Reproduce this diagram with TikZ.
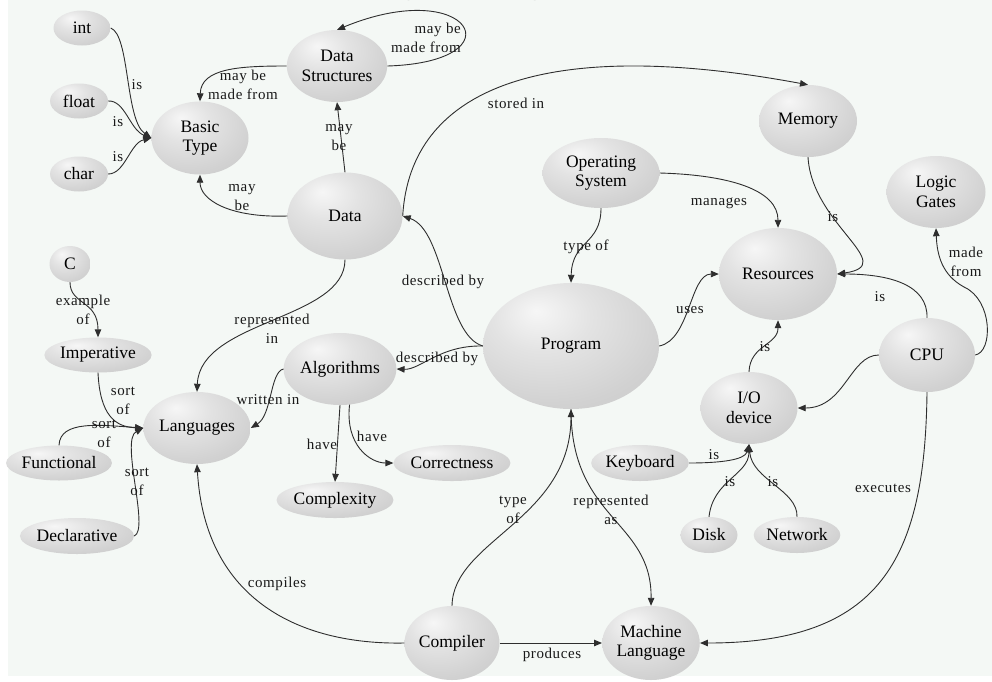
\documentclass[tikz,border=0pt]{standalone}
\usepackage{fontspec}
\setmainfont{Liberation Serif}
\newfontfamily\lblfont{Liberation Serif}[LetterSpace=4.0]
\usetikzlibrary{shapes.geometric,arrows.meta}
\definecolor{bgcol}{RGB}{244,248,245}
\pgfdeclareradialshading{nodeshade}{\pgfpoint{-10bp}{14bp}}{%
  color(0bp)=(gray!7); color(14bp)=(gray!22); color(32bp)=(gray!36);
  color(50bp)=(gray!45); color(80bp)=(gray!50)}
\tikzset{
  concept/.style={ellipse, shading=nodeshade, inner sep=0pt, align=center,
    font=\fontsize{17.5}{19.5}\selectfont, text=black},
  lbl/.style={font=\lblfont\fontsize{15}{19}\selectfont, inner sep=0pt, text=black!90, align=center},
  link/.style={draw=black!82, line width=0.9pt, -{Triangle[length=8pt,width=6.5pt]}}
}
\begin{document}
\begin{tikzpicture}[x=1pt,y=-1pt]
\useasboundingbox (0,0) rectangle (992,681);
\fill[white] (0,0) rectangle (992,681);
\fill[bgcol] (8,0) rectangle (992,676);
\begin{scope}
\clip (0,0) rectangle (992,681);
\node[anchor=base west, inner sep=0pt, font=\bfseries\fontsize{32}{36}\selectfont] (title) at (352,-7) {Programming Concepts};
\end{scope}

% nodes
\node[concept,minimum width=57,minimum height=35] (int) at (82,28) {int};
\node[concept,minimum width=58,minimum height=35] (float) at (79,101) {float};
\node[concept,minimum width=58,minimum height=35] (char) at (79,174) {char};
\node[concept,minimum width=97,minimum height=73] (bt) at (200,138) {Basic\\Type};
\node[concept,minimum width=97,minimum height=72] (ds) at (337,66) {Data\\Structures};
\node[concept,minimum width=115,minimum height=87] (data) at (345,216) {Data};
\node[concept,minimum width=98,minimum height=72] (mem) at (808,121) {Memory};
\node[concept,minimum width=117,minimum height=70] (os) at (601,173) {Operating\\System};
\node[concept,minimum width=99,minimum height=72] (lg) at (936,192) {Logic\\Gates};
\node[concept,minimum width=118,minimum height=92] (res) at (778,274) {Resources};
\node[concept,minimum width=176,minimum height=126] (prog) at (571,346) {Program};
\node[concept,minimum width=96,minimum height=74] (cpu) at (927,355) {CPU};
\node[concept,minimum width=97,minimum height=72] (io) at (749,408) {I/O\\device};
\node[concept,minimum width=96,minimum height=72] (alg) at (340,369) {Algorithms};
\node[concept,minimum width=97,minimum height=72] (lang) at (197,428) {Languages};
\node[concept,minimum width=41,minimum height=36] (c) at (70,264) {C};
\node[concept,minimum width=97,minimum height=35] (imp) at (98,355) {Imperative};
\node[concept,minimum width=98,minimum height=35] (func) at (59,463) {Functional};
\node[concept,minimum width=97,minimum height=36] (decl) at (77,536) {Declarative};
\node[concept,minimum width=96,minimum height=36] (cx) at (335,500) {Complexity};
\node[concept,minimum width=98,minimum height=36] (corr) at (452,463) {Correctness};
\node[concept,minimum width=80,minimum height=36] (kb) at (640,463) {Keyboard};
\node[concept,minimum width=57,minimum height=36] (disk) at (709,535) {Disk};
\node[concept,minimum width=76,minimum height=36] (net) at (797,535) {Network};
\node[concept,minimum width=95,minimum height=74] (comp) at (452,643) {Compiler};
\node[concept,minimum width=95,minimum height=74] (ml) at (651,643) {Machine\\Language};

\coordinate (lgbend) at (964,287);

% connectors
\draw[link] (int.east) .. controls (130,35) and (125,120) .. (bt.west);
\draw[link] (float.east) .. controls (125,100) and (130,130) .. (bt.west);
\draw[link] (char.east) .. controls (125,174) and (130,143) .. (bt.west);
\draw[link] (ds.west) .. controls (240,66) and (201,68) .. (bt.north);
\draw[link] (ds.east) .. controls (520,62) and (470,-25) .. (ds.north);
\draw[link] (data.north) -- (ds.south);
\draw[link] (data.west) .. controls (230,218) and (200,200) .. (bt.south);
\draw[link] (data.east) .. controls (410,90) and (540,35) .. (mem.north);
\draw[link] (prog.west) .. controls (445,335) and (445,230) .. (data.east);
\draw[link] (prog.west) .. controls (440,345) and (420,370) .. (alg.east);
\draw[link] (data.south) .. controls (345,320) and (200,320) .. (lang.north);
\draw[link] (alg.west) .. controls (270,372) and (272,415) .. (lang.east);
\draw[link] (alg.south) -- (cx.north);
\draw[link] (alg.285) .. controls (345,445) and (370,463) .. (corr.west);
\draw[link] (c.south) .. controls (70,305) and (98,300) .. (imp.north);
\draw[link] (imp.south) .. controls (100,415) and (115,427) .. (lang.west);
\draw[link] (func.north) .. controls (60,420) and (100,425) .. (lang.west);
\draw[link] (decl.east) .. controls (150,530) and (120,440) .. (lang.west);
\draw[link] (comp.west) .. controls (300,645) and (205,600) .. (lang.south);
\draw[link] (comp.north) .. controls (453,540) and (571,520) .. (prog.south);
\draw[link] (prog.south) .. controls (571,520) and (652,520) .. (ml.north);
\draw[link] (comp.east) -- (ml.west);
\draw[link] (cpu.south) .. controls (925,560) and (880,643) .. (ml.east);
\draw[link] (os.east) .. controls (730,175) and (778,190) .. (res.north);
\draw[link] (os.south) .. controls (601,245) and (572,240) .. (prog.north);
\draw[link] (prog.east) .. controls (690,340) and (690,274) .. (res.west);
\draw[link] (mem.south) .. controls (812,225) and (900,265) .. (res.east);
\draw[link] (cpu.north) .. controls (928,285) and (890,274) .. (res.east);
\draw[link] (cpu.east) .. controls (993,352) and (993,300) .. (lgbend) .. controls (942,275) and (937,255) .. (lg.south);
\draw[link] (cpu.west) .. controls (850,355) and (845,408) .. (io.east);
\draw[link] (io.north) .. controls (750,345) and (778,345) .. (res.south);
\draw[link] (kb.east) .. controls (720,463) and (745,460) .. (io.south);
\draw[link] (disk.north) .. controls (713,480) and (749,475) .. (io.south);
\draw[link] (net.north) .. controls (798,490) and (752,480) .. (io.south);

% labels
\node[lbl] (l1) at (137,85) {is};
\node[lbl] (l2) at (118,122) {is};
\node[lbl] (l3) at (118,157) {is};
\node[lbl] (l4) at (243,84.5) {may be\\made from};
\node[lbl,align=right,anchor=east] (l5) at (461,38) {may be\\made from};
\node[lbl] (l6) at (339,138) {may\\be};
\node[lbl] (l7) at (242,198) {may\\be};
\node[lbl] (l8) at (516,103) {stored in};
\node[lbl] (l9) at (443,282) {described by};
\node[lbl] (l10) at (437,359) {described by};
\node[lbl] (l11) at (272,329) {represented\\in};
\node[lbl] (l12) at (268,400) {written in};
\node[lbl] (l13) at (322,444) {have};
\node[lbl] (l14) at (372,436) {have};
\node[lbl] (l15) at (83,310) {example\\of};
\node[lbl] (l16) at (123,401) {sort\\of};
\node[lbl] (l17) at (104,434) {sort\\of};
\node[lbl] (l18) at (137,482) {sort\\of};
\node[lbl] (l19) at (277,584) {compiles};
\node[lbl] (l20) at (513,510) {type\\of};
\node[lbl] (l21) at (611,510) {represented\\as};
\node[lbl] (l22) at (552,655) {produces};
\node[lbl] (l23) at (883,488) {executes};
\node[lbl] (l24) at (719,203) {manages};
\node[lbl] (l25) at (586,247) {type of};
\node[lbl] (l26) at (690,310) {uses};
\node[lbl] (l27) at (833,217) {is};
\node[lbl] (l28) at (880,297) {is};
\node[lbl] (l29) at (966,262) {made\\from};
\node[lbl] (l30) at (765,347) {is};
\node[lbl] (l31) at (714,455) {is};
\node[lbl] (l32) at (730,482) {is};
\node[lbl] (l33) at (773,482) {is};
\end{tikzpicture}
\end{document}
